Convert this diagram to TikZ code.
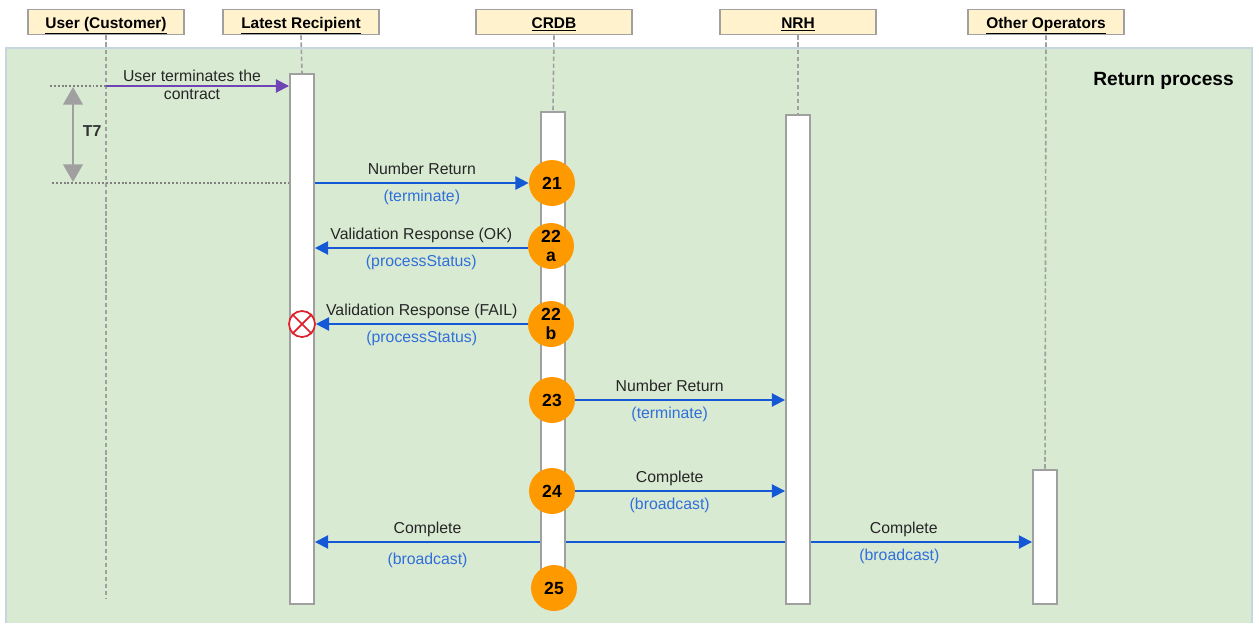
\documentclass[tikz,border=0pt]{standalone}
\usepackage{fontspec}
\setmainfont{Liberation Sans}
\usetikzlibrary{arrows.meta}
\definecolor{bggreen}{HTML}{D9EAD3}
\definecolor{bgline}{HTML}{C5D6DE}
\definecolor{headfill}{HTML}{FFF2CC}
\definecolor{boxline}{HTML}{A0A0A0}
\definecolor{dotgray}{HTML}{808080}
\definecolor{dotorange}{HTML}{FF9900}
\definecolor{msgblue}{HTML}{1558D6}
\definecolor{callblue}{HTML}{2F6FD9}
\definecolor{userpurple}{HTML}{6F45B5}
\definecolor{failred}{HTML}{E0202A}
\begin{document}
\begin{tikzpicture}[x=0.02cm,y=-0.02cm,
    header/.style={draw=boxline,fill=headfill,line width=1.1pt,minimum width=3.12cm,minimum height=0.5cm,inner sep=0pt,text height=7pt,text depth=0pt,font=\bfseries\fontsize{8.8}{10}\selectfont},
    lifeline/.style={draw=boxline,line width=0.9pt,dash pattern=on 2.5pt off 1.5pt},
    bar/.style={draw=boxline,fill=white,line width=1.1pt,minimum width=0.48cm,inner sep=0pt,anchor=north},
    dots/.style={draw=dotgray,line width=1.2pt,dash pattern=on 1.1pt off 1.1pt},
    badge/.style={circle,fill=dotorange,minimum size=0.92cm,inner sep=0pt,align=center,font=\bfseries\fontsize{10}{11.3}\selectfont},
    msg/.style={draw=msgblue,line width=1.1pt,-{Triangle[length=7.5pt,width=7.5pt]}},
    timer/.style={draw=boxline,line width=1.7pt,{Triangle[length=10pt,width=11pt]}-{Triangle[length=10pt,width=11pt]}},
    lbl/.style={font=\fontsize{9}{10.2}\selectfont,inner sep=2.2pt,text height=7pt,text depth=2pt,text=black!85},
    call/.style={text=callblue,below=0.8pt}
  ]
  \useasboundingbox (0,0) rectangle (1259,623);
  \fill[bggreen] (6,48) rectangle (1252,623);
  \draw[bgline,line width=0.6pt] (6,623) -- (6,48) -- (1252,48) -- (1252,623);
  \node[font=\bfseries\fontsize{10.9}{12}\selectfont,anchor=east] (title) at (1240,81) {Return process};

  \node[header] (usr) at (106,22) {\underline{User (Customer)}};
  \node[header] (lr) at (301,22) {\underline{Latest Recipient}};
  \node[header] (crdb) at (554,22) {\underline{CRDB}};
  \node[header] (nrh) at (798,22) {\underline{NRH}};
  \node[header] (oo) at (1046,22) {\underline{Other Operators}};

  \node[bar,minimum height=10.6cm] (lrbar) at (302,73) {};
  \node[bar,minimum height=9.84cm] (crdbbar) at (553,111) {};
  \node[bar,minimum height=9.78cm] (nrhbar) at (798,114) {};
  \node[bar,minimum height=2.68cm] (oobar) at (1045,469) {};

  \coordinate (usrend) at (106,598);
  \begin{scope}[lifeline]
    \draw (usr.south) -- (usrend);
    \draw (lr.south) -- (lrbar.north);
    \draw (crdb.south) -- (crdbbar.north);
    \draw (nrh.south) -- (nrhbar.north);
    \draw (oo.south) -- (oobar.north);
  \end{scope}

  \coordinate (ttop) at (50,86);
  \coordinate (tbot) at (52,183);
  \draw[dots] (ttop) -- (lrbar.west |- ttop);
  \draw[dots] (tbot) -- (lrbar.west |- tbot);
  \draw[msg,draw=userpurple] (usr |- ttop) -- (lrbar.west |- ttop);
  \node[font=\fontsize{9}{10.2}\selectfont,inner sep=1.5pt,text=black!85,align=center] (termlbl) at (192,85) {User terminates the\\contract};
  \coordinate (t7a) at (73,87);
  \coordinate (t7b) at (73,182);
  \draw[timer] (t7a) -- node[right=1.5pt,yshift=2pt,font=\bfseries\fontsize{9}{10}\selectfont,text=black!80] (t7) {T7} (t7b);

  \node[badge] (b21) at (552,183) {21};
  \node[badge] (b22a) at (551,246) {22\\a};
  \node[badge] (b22b) at (551,324) {22\\b};
  \node[badge] (b23) at (552,400) {23};
  \node[badge] (b24) at (552,491) {24};
  \node[badge] (b25) at (554,588) {25};

  \node[circle,draw=failred,fill=white,line width=1pt,minimum size=0.52cm,inner sep=0pt] (fail) at (302,324) {};
  \draw[failred,line width=1pt] (fail.north west) -- (fail.south east) (fail.north east) -- (fail.south west);

  \draw[msg] (lrbar.east |- b21) -- node[lbl,above] {Number Return} node[lbl,call] {(terminate)} (b21);
  \draw[msg] (b22a.west |- 0,248) -- node[lbl,above] {Validation Response (OK)} node[lbl,call] {(processStatus)} (lrbar.east |- 0,248);
  \draw[msg] (b22b) -- node[lbl,above] {Validation Response (FAIL)} node[lbl,call] {(processStatus)} (fail);
  \draw[msg] (b23) -- node[lbl,above,pos=0.45] {Number Return} node[lbl,call,pos=0.45] {(terminate)} (nrhbar.west |- b23);
  \draw[msg] (b24) -- node[lbl,above,pos=0.45] {Complete} node[lbl,call,pos=0.45] {(broadcast)} (nrhbar.west |- b24);

  \coordinate (bc) at (553,542);
  \draw[msg] (crdbbar.west |- bc) -- node[lbl,above] {Complete} node[lbl,call,below=2.5pt] {(broadcast)} (lrbar.east |- bc);
  \draw[msg,-] (crdbbar.east |- bc) -- (nrhbar.west |- bc);
  \draw[msg] (nrhbar.east |- bc) -- node[lbl,above,pos=0.42] {Complete} node[lbl,call,pos=0.4] {(broadcast)} (oobar.west |- bc);
\end{tikzpicture}
\end{document}
